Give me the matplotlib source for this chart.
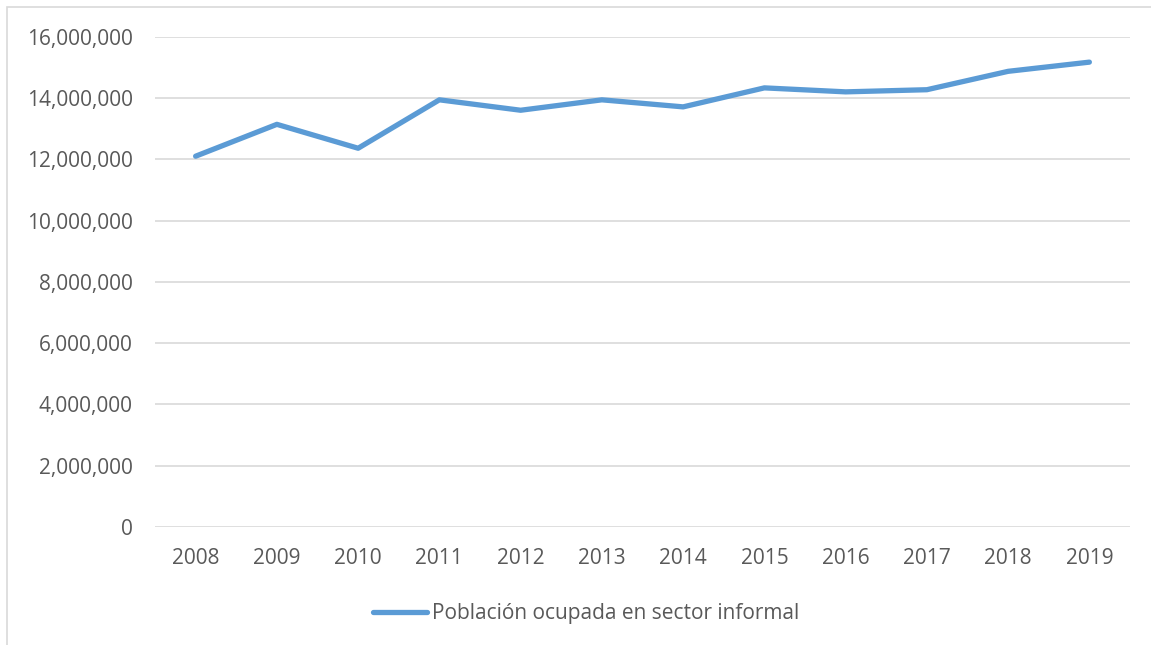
import matplotlib.pyplot as plt
from matplotlib.patches import Rectangle
from matplotlib.ticker import FuncFormatter

# Data
years = ['2008', '2009', '2010', '2011', '2012', '2013',
         '2014', '2015', '2016', '2017', '2018', '2019']
informal = [12100000, 13140000, 12360000, 13940000, 13600000, 13940000,
            13710000, 14330000, 14200000, 14270000, 14870000, 15170000]
series_label = 'Población ocupada en sector informal'

plt.rcParams['font.family'] = ['Open Sans', 'DejaVu Sans']
text_color = '#595959'
grid_color = '#D9D9D9'

fig = plt.figure(figsize=(11.51, 6.45), dpi=100)
W, H = 1151, 645

# chart frame (cropped on the right and bottom in the reference)
fig.patches.append(Rectangle((7 / W, -0.05), 1.05, 1.05 - 7 / H,
                             transform=fig.transFigure, fill=False,
                             edgecolor=grid_color, linewidth=1.2))

ax = fig.add_axes([155 / W, 118 / H, (1130 - 155) / W, (527 - 36.7) / H])
x = range(len(years))
line, = ax.plot(x, informal, color='#5B9BD5', linewidth=3.8,
                solid_capstyle='round', solid_joinstyle='round',
                label=series_label, zorder=3)

ax.set_xlim(-0.5, len(years) - 0.5)
ax.set_ylim(0, 16000000)
ax.set_yticks(range(0, 16000001, 2000000))
ax.yaxis.set_major_formatter(FuncFormatter(lambda v, p: f'{int(v):,}'))
ax.set_xticks(list(x))
ax.set_xticklabels(years)

ax.grid(axis='y', color=grid_color, linewidth=1.2)
ax.set_axisbelow(True)
for s in ax.spines.values():
    s.set_visible(False)
ax.tick_params(length=0, labelsize=15, labelcolor=text_color)
ax.tick_params(axis='y', pad=16)
ax.tick_params(axis='x', pad=15)

leg = fig.legend(handles=[line], loc='center', bbox_to_anchor=(586 / W, 1 - 614 / H),
                 frameon=False, fontsize=15, handlelength=2.6, handletextpad=0.2,
                 borderpad=0)
for t in leg.get_texts():
    t.set_color(text_color)

fig.savefig('out.png', dpi=100)
